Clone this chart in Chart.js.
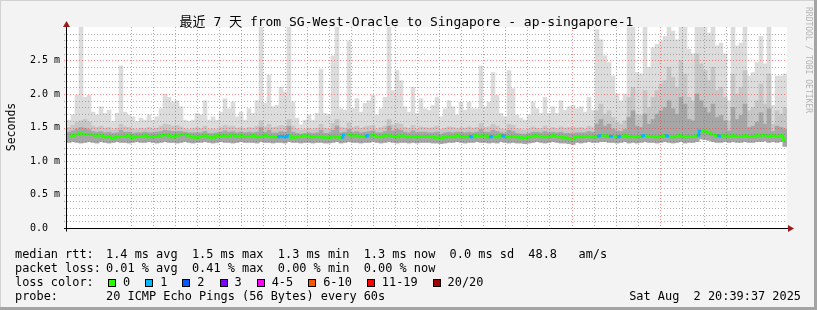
<!DOCTYPE html>
<html>
<head>
<meta charset="utf-8">
<script src="https://cdn.jsdelivr.net/npm/chart.js@4.4.1/dist/chart.umd.min.js"></script>
<style>
  html, body { margin: 0; padding: 0; background: #f3f3f3; }
  #frame { position: relative; width: 817px; height: 310px; background: #f3f3f3; overflow: hidden;
           font-family: "DejaVu Sans Mono", "Noto Sans CJK SC", monospace; color: #000; }
  #frame canvas { position: absolute; left: 0; top: 0; }
  .edge { position: absolute; }
  .t { position: absolute; white-space: pre; font-size: 11.9px; line-height: 14px; }
  #title { position: absolute; left: -2px; top: 14px; width: 817px; text-align: center; white-space: pre;
           font-size: 13px; line-height: 16px; }
  #unit { position: absolute; left: 11px; top: 127px; white-space: pre; font-size: 11.5px; line-height: 14px;
          transform: translate(-50%, -50%) rotate(-90deg); }
  #mark { position: absolute; left: 808px; top: 60px; white-space: pre; font-size: 8px; line-height: 10px; color: #b4b4b4;
          transform: translate(-50%, -50%) rotate(90deg); }
  #swatches { position: absolute; left: 108px; top: 275px; display: flex; align-items: center; height: 14px; }
  .sw { width: 8px; height: 8px; box-sizing: border-box; border: 1px solid #000; margin-right: 7px; margin-top: 2px; }
  .sl { font-size: 11.9px; white-space: pre; margin-right: 15px; }
</style>
</head>
<body>
<div id="frame">
  <canvas id="chart" width="817" height="310"></canvas>
  <div class="edge" style="left:0;top:0;width:817px;height:1px;background:#d2d2d2"></div>
  <div class="edge" style="left:0;top:0;width:1px;height:310px;background:#d2d2d2"></div>
  <div class="edge" style="left:814px;top:0;width:3px;height:310px;background:#a4a4a4"></div>
  <div class="edge" style="left:0;top:307px;width:817px;height:3px;background:#a4a4a4"></div>
  <div id="title"></div>
  <div id="unit">Seconds</div>
  <div id="mark">RRDTOOL / TOBI OETIKER</div>
  <div class="t" style="left:15px;top:247px">median rtt:</div>
  <div class="t" id="rttStats" style="left:106px;top:247px"></div>
  <div class="t" style="left:15px;top:261px">packet loss:</div>
  <div class="t" id="lossStats" style="left:106px;top:261px"></div>
  <div class="t" style="left:15px;top:275px">loss color:</div>
  <div id="swatches"></div>
  <div class="t" style="left:15px;top:289px">probe:</div>
  <div class="t" id="probe" style="left:106px;top:289px"></div>
  <div class="t" id="stamp" style="right:16px;top:289px"></div>
</div>
<script>
const TITLE = "最近 7 天 from SG-West-Oracle to Singapore - ap-singapore-1";
const PROBE = "20 ICMP Echo Pings (56 Bytes) every 60s";
const STAMP = "Sat Aug  2 20:39:37 2025";

// x axis: 7 days, window starts Sat 26 Jul 20:39:37
const HOURS = 168;
const FIRST_MIDNIGHT = 3.34;   // h from window start to Sun 27 Jul 00:00
const dayLabels = ["Sun 27 Jul", "Mon 28 Jul", "Tue 29 Jul", "Wed 30 Jul", "Thu 31 Jul", "Fri 01 Aug", "Sat 02 Aug"];
const yTicks = [0, 0.5, 1.0, 1.5, 2.0, 2.5];
const yLabels = ["0.0  ", "0.5 m", "1.0 m", "1.5 m", "2.0 m", "2.5 m"];

const rttStats = ["1.4 ms avg", "1.5 ms max", "1.3 ms min", "1.3 ms now", "0.0 ms sd", "48.8   am/s"];
const lossStats = ["0.01 % avg", "0.41 % max", "0.00 % min", "0.00 % now"];
const lossLabels = ["0", "1", "2", "3", "4-5", "6-10", "11-19", "20/20"];
const lossColors = ["#26ff00", "#00b8ff", "#0059ff", "#7e00ff", "#ff00ff", "#ff5500", "#ff0000", "#a10000"];

// 180 bins (~56 min each), values in ms
const rttMax = [
  1.61,1.69,1.98,3.05,1.95,1.98,1.73,1.69,1.81,1.71,1.76,1.59,1.71,2.42,1.73,1.69,1.66,1.59,1.64,1.61,1.69,1.61,1.66,1.78,2.0,1.95,1.88,1.9,1.81,1.61,1.59,1.61,1.71,1.69,1.9,1.61,1.66,1.61,1.73,1.93,1.78,1.88,1.66,1.73,1.61,
  1.78,1.71,1.9,3.05,1.86,2.28,1.81,1.83,2.1,2.03,3.05,1.88,1.64,1.54,1.61,1.69,1.61,1.71,2.37,1.71,1.69,2.57,3.05,1.78,1.76,2.79,1.78,1.93,1.73,1.86,1.9,1.98,1.69,1.78,1.95,3.05,2.05,2.35,2.2,1.81,1.73,2.1,1.71,1.93,1.78,
  1.76,1.83,1.95,1.66,1.78,1.9,1.81,1.69,1.88,1.76,1.88,1.78,1.78,2.42,1.81,1.88,2.32,1.98,1.71,1.66,2.35,2.08,1.69,1.64,1.61,1.69,1.88,1.78,1.71,1.95,1.71,1.81,1.71,1.9,1.76,1.81,1.83,1.78,1.81,1.73,1.95,1.76,2.96,2.81,2.57,
  2.47,2.27,2.0,1.9,2.0,3.05,3.05,2.32,2.3,3.05,2.4,2.69,2.74,2.79,2.86,3.05,2.94,2.81,3.05,3.05,2.67,2.6,3.05,3.05,3.05,2.91,3.05,2.72,2.76,2.6,1.9,3.05,2.72,2.76,3.05,2.27,2.32,2.47,2.86,2.45,3.05,1.83,2.27,2.27,2.3
];
const rttP2 = [
  1.50,1.53,1.58,1.60,1.62,1.58,1.52,1.50,1.52,1.49,1.50,1.47,1.49,1.55,1.51,1.50,1.48,1.47,1.49,1.48,1.50,1.48,1.49,1.52,1.55,1.54,1.52,1.53,1.51,1.48,1.47,1.48,1.50,1.49,1.52,1.47,1.48,1.47,1.50,1.53,1.51,1.52,1.49,1.50,1.48,
  1.50,1.49,1.52,1.60,1.51,1.55,1.50,1.51,1.53,1.52,1.62,1.52,1.48,1.46,1.47,1.49,1.47,1.49,1.55,1.49,1.48,1.56,1.62,1.50,1.49,1.57,1.50,1.52,1.49,1.51,1.52,1.53,1.48,1.50,1.52,1.62,1.54,1.56,1.55,1.50,1.49,1.53,1.48,1.51,1.50,
  1.49,1.50,1.52,1.47,1.49,1.51,1.50,1.48,1.50,1.49,1.51,1.49,1.50,1.56,1.50,1.51,1.55,1.52,1.48,1.47,1.55,1.53,1.48,1.47,1.46,1.48,1.51,1.49,1.48,1.52,1.48,1.50,1.48,1.51,1.49,1.50,1.51,1.49,1.50,1.48,1.52,1.50,1.75,1.85,1.70,
  1.75,1.65,1.58,1.55,1.60,1.95,2.10,1.70,1.68,2.05,1.80,1.95,2.05,2.15,2.20,2.40,2.25,2.10,2.50,2.30,1.95,1.90,2.60,2.45,2.35,2.20,2.40,2.05,2.10,1.95,1.60,2.30,2.00,2.10,2.35,1.75,1.80,1.90,2.15,1.85,2.30,1.55,1.75,1.70,1.80
];
const rttP3 = [
  1.43,1.45,1.48,1.50,1.49,1.47,1.44,1.43,1.44,1.42,1.43,1.41,1.42,1.46,1.43,1.43,1.41,1.42,1.42,1.43,1.42,1.42,1.43,1.44,1.46,1.45,1.44,1.44,1.44,1.43,1.42,1.42,1.42,1.42,1.44,1.41,1.41,1.42,1.43,1.45,1.43,1.44,1.42,1.43,1.42,
  1.43,1.42,1.43,1.50,1.43,1.46,1.42,1.42,1.44,1.43,1.52,1.43,1.41,1.40,1.41,1.42,1.41,1.42,1.46,1.41,1.41,1.46,1.52,1.42,1.43,1.47,1.43,1.44,1.42,1.43,1.44,1.45,1.42,1.42,1.44,1.52,1.45,1.47,1.46,1.43,1.42,1.45,1.42,1.43,1.43,
  1.42,1.42,1.43,1.40,1.42,1.43,1.42,1.43,1.43,1.42,1.43,1.42,1.43,1.47,1.43,1.43,1.46,1.44,1.42,1.41,1.46,1.44,1.41,1.40,1.40,1.41,1.43,1.43,1.42,1.44,1.42,1.43,1.42,1.43,1.41,1.41,1.41,1.42,1.42,1.42,1.44,1.43,1.55,1.62,1.52,
  1.55,1.48,1.45,1.44,1.47,1.65,1.75,1.52,1.50,1.70,1.55,1.62,1.70,1.75,1.80,1.90,1.78,1.70,1.95,1.85,1.62,1.60,2.00,1.90,1.80,1.72,1.85,1.65,1.68,1.60,1.45,1.80,1.62,1.68,1.85,1.50,1.52,1.58,1.72,1.55,1.78,1.44,1.52,1.50,1.48
];
const rttMin = [
  1.28,1.29,1.28,1.27,1.28,1.29,1.28,1.27,1.29,1.28,1.27,1.28,1.29,1.28,1.28,1.27,1.28,1.29,1.28,1.28,1.29,1.28,1.27,1.28,1.29,1.28,1.28,1.27,1.28,1.29,1.28,1.27,1.28,1.28,1.29,1.28,1.27,1.28,1.29,1.28,1.28,1.27,1.28,1.29,1.28,
  1.28,1.28,1.27,1.29,1.28,1.28,1.27,1.28,1.28,1.27,1.29,1.28,1.28,1.27,1.28,1.28,1.27,1.28,1.28,1.27,1.27,1.28,1.29,1.27,1.28,1.29,1.28,1.28,1.27,1.28,1.28,1.29,1.28,1.27,1.28,1.29,1.28,1.27,1.28,1.28,1.27,1.28,1.27,1.28,1.28,
  1.28,1.27,1.27,1.26,1.27,1.28,1.28,1.29,1.28,1.27,1.28,1.28,1.29,1.28,1.28,1.27,1.28,1.27,1.29,1.28,1.27,1.28,1.27,1.27,1.26,1.27,1.28,1.29,1.28,1.27,1.28,1.29,1.28,1.27,1.27,1.26,1.25,1.28,1.27,1.28,1.29,1.28,1.28,1.29,1.29,
  1.28,1.28,1.27,1.28,1.29,1.27,1.28,1.27,1.28,1.29,1.28,1.28,1.27,1.28,1.29,1.28,1.27,1.28,1.29,1.27,1.28,1.28,1.29,1.33,1.32,1.31,1.29,1.28,1.28,1.29,1.28,1.29,1.28,1.28,1.29,1.28,1.28,1.29,1.29,1.30,1.28,1.29,1.28,1.29,1.22
];
const rttMedian = [
  1.37,1.38,1.40,1.41,1.40,1.40,1.39,1.38,1.38,1.36,1.37,1.34,1.36,1.37,1.37,1.38,1.35,1.37,1.37,1.38,1.36,1.37,1.37,1.38,1.39,1.38,1.36,1.38,1.39,1.40,1.38,1.36,1.35,1.37,1.38,1.36,1.35,1.38,1.37,1.38,1.37,1.39,1.37,1.38,1.37,
  1.37,1.38,1.36,1.37,1.38,1.37,1.36,1.36,1.37,1.36,1.38,1.35,1.36,1.37,1.38,1.37,1.36,1.37,1.36,1.35,1.35,1.37,1.36,1.35,1.39,1.40,1.38,1.38,1.37,1.37,1.38,1.39,1.37,1.36,1.38,1.38,1.37,1.36,1.38,1.37,1.36,1.37,1.36,1.37,1.37,
  1.37,1.36,1.35,1.34,1.36,1.37,1.36,1.38,1.37,1.36,1.37,1.36,1.38,1.37,1.38,1.36,1.37,1.36,1.38,1.37,1.36,1.37,1.36,1.35,1.34,1.36,1.37,1.38,1.37,1.36,1.37,1.38,1.37,1.36,1.35,1.34,1.33,1.37,1.36,1.37,1.37,1.36,1.37,1.38,1.38,
  1.37,1.37,1.36,1.37,1.38,1.36,1.37,1.36,1.37,1.38,1.37,1.37,1.36,1.37,1.38,1.37,1.36,1.37,1.38,1.36,1.37,1.37,1.38,1.45,1.44,1.42,1.40,1.38,1.37,1.38,1.37,1.38,1.37,1.37,1.38,1.37,1.37,1.38,1.38,1.39,1.37,1.38,1.37,1.38,1.32
];
// bins where 1 of 20 pings was lost
const lossOneBins = [52, 53, 54, 68, 74, 100, 105, 108, 132, 135, 137, 143, 149, 157, 162];

// text blocks
document.getElementById("title").textContent = TITLE;
document.getElementById("rttStats").textContent = rttStats.join("  ");
document.getElementById("lossStats").textContent = lossStats.join("  ");
document.getElementById("probe").textContent = PROBE;
document.getElementById("stamp").textContent = STAMP;
const sw = document.getElementById("swatches");
lossLabels.forEach((lab, i) => {
  const b = document.createElement("div");
  b.className = "sw";
  b.style.background = lossColors[i];
  const s = document.createElement("span");
  s.className = "sl";
  s.textContent = lab;
  sw.appendChild(b);
  sw.appendChild(s);
});

const bins = rttMedian.map((_, i) => i);
const gridHours = [];
for (let h = FIRST_MIDNIGHT; h < HOURS; h += 6) gridHours.push(h);
const noonHours = dayLabels.map((_, k) => FIRST_MIDNIGHT + 12 + 24 * k);

const MINOR = "rgba(120,120,120,0.6)";
const MAJOR = "rgba(255,40,40,0.55)";
const ARROW = "#9c1c1c";

// rrdtool draws the grid over the graph
const rrdFrame = {
  id: "rrdFrame",
  beforeDraw(chart) {
    const {ctx, chartArea: a} = chart;
    ctx.save();
    ctx.fillStyle = "#fff";
    ctx.fillRect(a.left, a.top, a.right - a.left, a.bottom - a.top);
    ctx.restore();
  },
  afterDatasetsDraw(chart) {
    const {ctx, chartArea: a, scales: {y, xt}} = chart;
    ctx.save();
    ctx.lineWidth = 1;
    ctx.setLineDash([1, 2]);
    for (let k = 1; k < 30; k++) {
      const py = Math.round(y.getPixelForValue(k / 10)) + 0.5;
      ctx.strokeStyle = k % 5 === 0 ? MAJOR : MINOR;
      ctx.beginPath(); ctx.moveTo(a.left - 3, py); ctx.lineTo(a.right, py); ctx.stroke();
    }
    gridHours.forEach((h, j) => {
      const px = Math.round(xt.getPixelForValue(h)) + 0.5;
      ctx.strokeStyle = j % 4 === 0 ? MAJOR : MINOR;
      ctx.beginPath(); ctx.moveTo(px, a.top); ctx.lineTo(px, a.bottom + 3); ctx.stroke();
    });
    ctx.setLineDash([]);
    ctx.strokeStyle = "#000";
    const x0 = a.left - 0.5, y0 = a.bottom + 0.5;
    ctx.beginPath(); ctx.moveTo(a.left - 3, y0); ctx.lineTo(a.right + 2, y0); ctx.stroke();
    ctx.beginPath(); ctx.moveTo(x0, y0 + 3); ctx.lineTo(x0, a.top - 1); ctx.stroke();
    ctx.fillStyle = ARROW;
    ctx.beginPath(); ctx.moveTo(a.right + 1, y0 - 3.5); ctx.lineTo(a.right + 7, y0); ctx.lineTo(a.right + 1, y0 + 3.5); ctx.closePath(); ctx.fill();
    ctx.beginPath(); ctx.moveTo(x0 - 3.5, a.top); ctx.lineTo(x0, a.top - 6); ctx.lineTo(x0 + 3.5, a.top); ctx.closePath(); ctx.fill();
    ctx.restore();
  }
};

const smoke = (lo, hi, color, order) => ({
  type: "bar",
  data: hi.map((v, i) => [lo[i], v]),
  backgroundColor: color,
  borderWidth: 0,
  barPercentage: 1,
  categoryPercentage: 1,
  grouped: false,
  order: order
});

const axisFont = {family: "DejaVu Sans Mono", size: 10};

new Chart(document.getElementById("chart"), {
  type: "bar",
  data: {
    labels: bins,
    datasets: [
      {
        type: "line",
        data: rttMedian,
        borderColor: lossColors[0],
        borderWidth: 2.5,
        pointRadius: 0,
        stepped: "middle",
        order: 0,
        segment: {
          borderColor: c => lossOneBins.includes(c.p0DataIndex) ? lossColors[1] : lossColors[0]
        }
      },
      smoke(rttMin, rttP3, "#a6a6a6", 1),
      smoke(rttMin, rttP2, "#c6c6c6", 2),
      smoke(rttMin, rttMax, "#dcdcdc", 3)
    ]
  },
  options: {
    responsive: false,
    animation: false,
    devicePixelRatio: 1,
    layout: {padding: {left: 0, top: 27, right: 30, bottom: 82}},
    plugins: {legend: {display: false}, tooltip: {enabled: false}, title: {display: false}},
    scales: {
      x: {type: "category", display: false, offset: true},
      xt: {
        type: "linear", position: "bottom", min: 0, max: HOURS,
        grid: {display: false, drawTicks: false},
        border: {display: false},
        afterBuildTicks: s => { s.ticks = noonHours.map(v => ({value: v})); },
        afterFit: s => { s.height = 0; },
        ticks: {
          autoSkip: false, maxRotation: 0, padding: 3, color: "#000", font: axisFont,
          callback: (v, i) => dayLabels[i]
        }
      },
      y: {
        type: "linear", min: 0, max: 3.0,
        grid: {display: false, drawTicks: false},
        border: {display: false},
        afterBuildTicks: s => { s.ticks = yTicks.map(v => ({value: v})); },
        afterFit: s => { s.width = 67; },
        ticks: {
          padding: 7, color: "#000", font: axisFont,
          callback: (v, i) => yLabels[i]
        }
      }
    }
  },
  plugins: [rrdFrame]
});
</script>
</body>
</html>
